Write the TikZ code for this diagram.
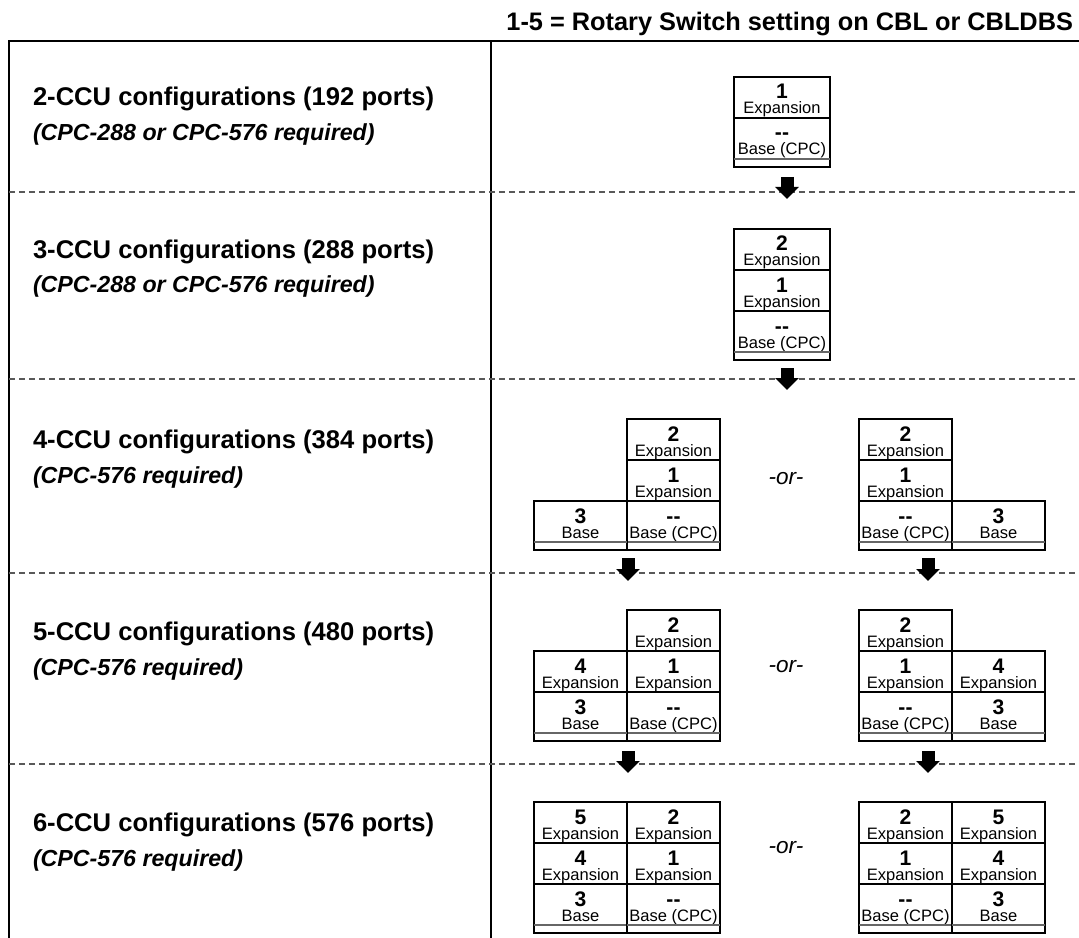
\documentclass[tikz,border=0pt]{standalone}
\usepackage{fontspec}
\setmainfont{Liberation Sans}
\usetikzlibrary{arrows.meta,calc}
\tikzset{
  every node/.style={inner sep=0pt, outer sep=0pt},
  titletxt/.style={font=\fontsize{19pt}{22pt}\selectfont\bfseries, anchor=base east},
  lab/.style={font=\fontsize{19.2pt}{22pt}\selectfont\bfseries, anchor=base west},
  sublab/.style={font=\fontsize{17.4pt}{20pt}\selectfont\bfseries\itshape, anchor=base west},
  orlab/.style={font=\fontsize{16.9pt}{20pt}\selectfont\itshape, anchor=center},
  cellbox/.style={draw=black, line width=1.5pt, anchor=north west, fill=white},
  digit/.style={font=\fontsize{15.8pt}{16pt}\selectfont\bfseries, anchor=base, text depth=0pt},
  celltxt/.style={font=\fontsize{12.4pt}{14pt}\selectfont, anchor=base, text height=8.9pt},
  stripline/.style={draw=black!60, line width=0.8pt},
  sep/.style={draw=black!65, line width=0.8pt, dash pattern=on 4.5pt off 3pt},
  frame/.style={draw=black, line width=1.4pt},
  flow/.style={line width=9.75pt, -{Triangle[width=17.25pt,length=9pt]}},
}
% name, x, ytop, width(px), digit, label
\newcommand\cellexp[6]{%
  \node[cellbox, minimum width=#4*0.75pt, minimum height=41*0.75pt] (#1) at (#2,#3) {};
  \node[digit] (#1d) at ($(#1.north)+(0,22)$) {#5};
  \node[celltxt] (#1t) at ($(#1.north)+(0,37)$) {#6};
}
\newcommand\cellbase[6]{%
  \node[cellbox, minimum width=#4*0.75pt, minimum height=49*0.75pt] (#1) at (#2,#3) {};
  \node[digit] (#1d) at ($(#1.north)+(0,22)$) {#5};
  \node[celltxt] (#1t) at ($(#1.north)+(0,37)$) {#6};
  \draw[stripline] ($(#1.north west)+(0,41)$) -- ($(#1.north east)+(0,41)$);
}
\newcommand\dd{-{}-}
\begin{document}
\begin{tikzpicture}[x=0.75pt, y=-0.75pt]
\useasboundingbox (0,0) rectangle (1079,938);
% frame
\coordinate (tl) at (9,41);
\coordinate (tr) at (1079,41);
\coordinate (bl) at (9,938);
\coordinate (dt) at (491,41);
\coordinate (db) at (491,938);
\draw[frame] (bl) -- (tl) -- (tr);
\draw[draw=black, line width=0.8pt] (dt) -- (db);
% title
\node[titletxt] (title) at (1073,31) {1-5 = Rotary Switch setting on CBL or CBLDBS};
% separators
\foreach \yy/\nm in {192/s1, 379/s2, 573/s3, 764/s4} {
  \coordinate (\nm a) at (9,\yy);
  \coordinate (\nm b) at (1079,\yy);
  \draw[sep] (\nm a) -- (\nm b);
}
% row labels
\node[lab] (l2) at (33,106) {2-CCU configurations (192 ports)};
\node[sublab] (m2) at (33,141) {(CPC-288 or CPC-576 required)};
\node[lab] (l3) at (33,258) {3-CCU configurations (288 ports)};
\node[sublab] (m3) at (33,292) {(CPC-288 or CPC-576 required)};
\node[lab] (l4) at (33,448) {4-CCU configurations (384 ports)};
\node[sublab] (m4) at (33,483) {(CPC-576 required)};
\node[lab] (l5) at (33,640) {5-CCU configurations (480 ports)};
\node[sublab] (m5) at (33,675) {(CPC-576 required)};
\node[lab] (l6) at (33,831) {6-CCU configurations (576 ports)};
\node[sublab] (m6) at (33,866) {(CPC-576 required)};
% 2-CCU
\cellexp{aA}{734}{77}{96}{1}{Expansion}
\cellbase{aB}{734}{118}{96}{\dd}{Base (CPC)}
% 3-CCU
\cellexp{bA}{734}{229}{96}{2}{Expansion}
\cellexp{bB}{734}{270}{96}{1}{Expansion}
\cellbase{bC}{734}{311}{96}{\dd}{Base (CPC)}
% 4-CCU left
\cellexp{cA}{627}{419}{93}{2}{Expansion}
\cellexp{cB}{627}{460}{93}{1}{Expansion}
\cellbase{cC}{627}{501}{93}{\dd}{Base (CPC)}
\cellbase{cD}{534}{501}{93}{3}{Base}
% 4-CCU right
\cellexp{cE}{859}{419}{93}{2}{Expansion}
\cellexp{cF}{859}{460}{93}{1}{Expansion}
\cellbase{cG}{859}{501}{93}{\dd}{Base (CPC)}
\cellbase{cH}{952}{501}{93}{3}{Base}
% 5-CCU left
\cellexp{dA}{627}{610}{93}{2}{Expansion}
\cellexp{dB}{627}{651}{93}{1}{Expansion}
\cellbase{dC}{627}{692}{93}{\dd}{Base (CPC)}
\cellexp{dD}{534}{651}{93}{4}{Expansion}
\cellbase{dE}{534}{692}{93}{3}{Base}
% 5-CCU right
\cellexp{dF}{859}{610}{93}{2}{Expansion}
\cellexp{dG}{859}{651}{93}{1}{Expansion}
\cellbase{dH}{859}{692}{93}{\dd}{Base (CPC)}
\cellexp{dI}{952}{651}{93}{4}{Expansion}
\cellbase{dJ}{952}{692}{93}{3}{Base}
% 6-CCU left
\cellexp{eA}{534}{802}{93}{5}{Expansion}
\cellexp{eB}{534}{843}{93}{4}{Expansion}
\cellbase{eC}{534}{884}{93}{3}{Base}
\cellexp{eD}{627}{802}{93}{2}{Expansion}
\cellexp{eE}{627}{843}{93}{1}{Expansion}
\cellbase{eF}{627}{884}{93}{\dd}{Base (CPC)}
% 6-CCU right
\cellexp{eG}{859}{802}{93}{2}{Expansion}
\cellexp{eH}{859}{843}{93}{1}{Expansion}
\cellbase{eI}{859}{884}{93}{\dd}{Base (CPC)}
\cellexp{eJ}{952}{802}{93}{5}{Expansion}
\cellexp{eK}{952}{843}{93}{4}{Expansion}
\cellbase{eL}{952}{884}{93}{3}{Base}
% -or-
\node[orlab] (or4) at (786,479) {-or-};
\node[orlab] (or5) at (786,667) {-or-};
\node[orlab] (or6) at (786,848) {-or-};
% arrows
\coordinate (f1a) at (787,177); \coordinate (f1b) at (787,199);
\coordinate (f2a) at (787,368); \coordinate (f2b) at (787,390);
\coordinate (f3a) at (628,558); \coordinate (f3b) at (628,581);
\coordinate (f4a) at (928,558); \coordinate (f4b) at (928,581);
\coordinate (f5a) at (628,751); \coordinate (f5b) at (628,773);
\coordinate (f6a) at (928,751); \coordinate (f6b) at (928,773);
\foreach \k in {1,...,6} { \draw[flow] (f\k a) -- (f\k b); }
\end{tikzpicture}
\end{document}
